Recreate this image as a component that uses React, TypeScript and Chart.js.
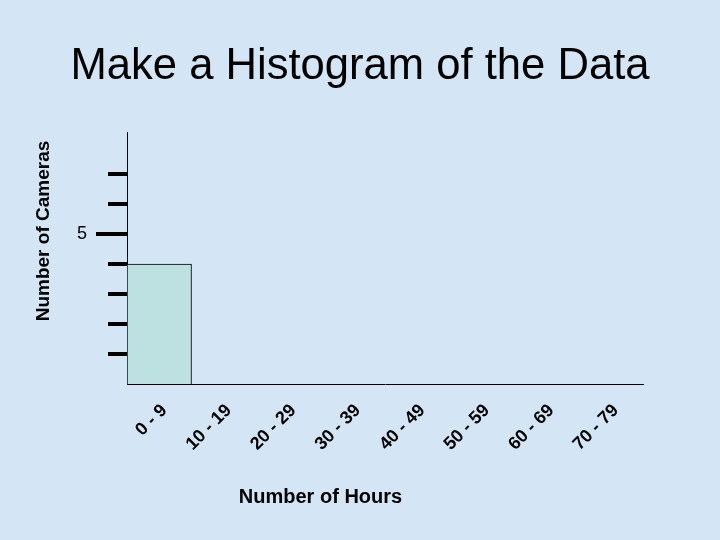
import React, { useEffect, useRef } from 'react';
import { Chart, registerables } from 'chart.js';

Chart.register(...registerables);

const categories = ['0 - 9', '10 - 19', '20 - 29', '30 - 39', '40 - 49', '50 - 59', '60 - 69', '70 - 79'];
const cameraCounts = [4, 0, 0, 0, 0, 0, 0, 0];
const yTickMarks = [1, 2, 3, 4, 5, 6, 7];
const yLabelledTicks = [5];
const yMax = 8.4;
const titleText = 'Make a Histogram of the Data';
const yTitle = 'Number of Cameras';
const xTitle = 'Number of Hours';

const FONT = '"Liberation Sans", Arial, Helvetica, sans-serif';
const BG = '#D4E6F6';

const decorPlugin = {
  id: 'decor',
  beforeDraw(chart: any) {
    const ctx = chart.ctx;
    ctx.save();
    ctx.fillStyle = BG;
    ctx.fillRect(0, 0, chart.width, chart.height);
    ctx.restore();
  },
  afterDraw(chart: any) {
    const ctx = chart.ctx;
    const ys = chart.scales.y;
    const xs = chart.scales.x;
    const left = chart.chartArea.left;
    ctx.save();
    ctx.strokeStyle = '#000';
    ctx.lineWidth = 4;
    ctx.lineCap = 'butt';
    yTickMarks.forEach((v) => {
      const py = Math.round(ys.getPixelForValue(v));
      const len = yLabelledTicks.includes(v) ? 31 : 19;
      ctx.beginPath();
      ctx.moveTo(left - len, py);
      ctx.lineTo(left, py);
      ctx.stroke();
    });
    // x axis title
    const cx = (xs.getPixelForValue(2) + xs.getPixelForValue(3)) / 2;
    ctx.fillStyle = '#000';
    ctx.font = `bold 20px ${FONT}`;
    ctx.textAlign = 'center';
    ctx.textBaseline = 'middle';
    ctx.fillText(xTitle, cx, chart.chartArea.bottom + 113);
    // y axis title
    ctx.font = `bold 19px ${FONT}`;
    ctx.translate(left - 83.5, ys.getPixelForValue(5) - 3);
    ctx.rotate(-Math.PI / 2);
    ctx.fillText(yTitle, 0, 0);
    ctx.restore();
  },
};

export default function App() {
  const ref = useRef<HTMLCanvasElement>(null);

  useEffect(() => {
    if (!ref.current) return;
    const chart = new Chart(ref.current, {
      type: 'bar',
      data: {
        labels: categories,
        datasets: [
          {
            data: cameraCounts,
            backgroundColor: '#BDE0E1',
            borderColor: '#000',
            borderWidth: 1,
            barPercentage: 1,
            categoryPercentage: 1,
            yAxisID: 'y',
          },
        ],
      },
      options: {
        animation: false,
        responsive: false,
        devicePixelRatio: 1,
        layout: { padding: { left: 0, right: 0, top: 0, bottom: 0 } },
        plugins: {
          legend: { display: false },
          tooltip: { enabled: false },
          title: {
            display: true,
            text: titleText,
            color: '#000',
            font: { family: FONT, size: 43.6, weight: 'normal' },
            padding: { top: 40.4, bottom: 39.3 },
          },
        },
        scales: {
          x: {
            grid: { display: false, drawTicks: false },
            border: { display: true, color: '#000', width: 1 },
            ticks: {
              autoSkip: false,
              minRotation: 45,
              maxRotation: 45,
              padding: 16,
              labelOffset: 5,
              color: '#000',
              font: { family: FONT, size: 18, weight: 'bold' },
            },
            afterFit(scale: any) {
              scale.height = 156;
            },
          },
          y: {
            min: 0,
            max: yMax,
            grid: { display: false, drawTicks: false },
            border: { display: true, color: '#000', width: 1 },
            ticks: {
              stepSize: 1,
              padding: 40,
              color: '#000',
              font: { family: FONT, size: 18, weight: 'normal' },
              callback: (v: any) => (yLabelledTicks.includes(Number(v)) ? String(v) : ''),
            },
            afterFit(scale: any) {
              scale.width = 127;
            },
          },
          yRight: {
            position: 'right',
            min: 0,
            max: yMax,
            display: true,
            grid: { display: false, drawTicks: false },
            border: { display: false },
            ticks: { display: false },
            afterFit(scale: any) {
              scale.width = 77;
            },
          },
        },
      },
      plugins: [decorPlugin],
    });
    return () => chart.destroy();
  }, []);

  return (
    <div style={{ position: 'absolute', left: 0, top: 0, width: 720, height: 540, background: BG }}>
      <canvas ref={ref} width={720} height={540} style={{ display: 'block' }} />
    </div>
  );
}
